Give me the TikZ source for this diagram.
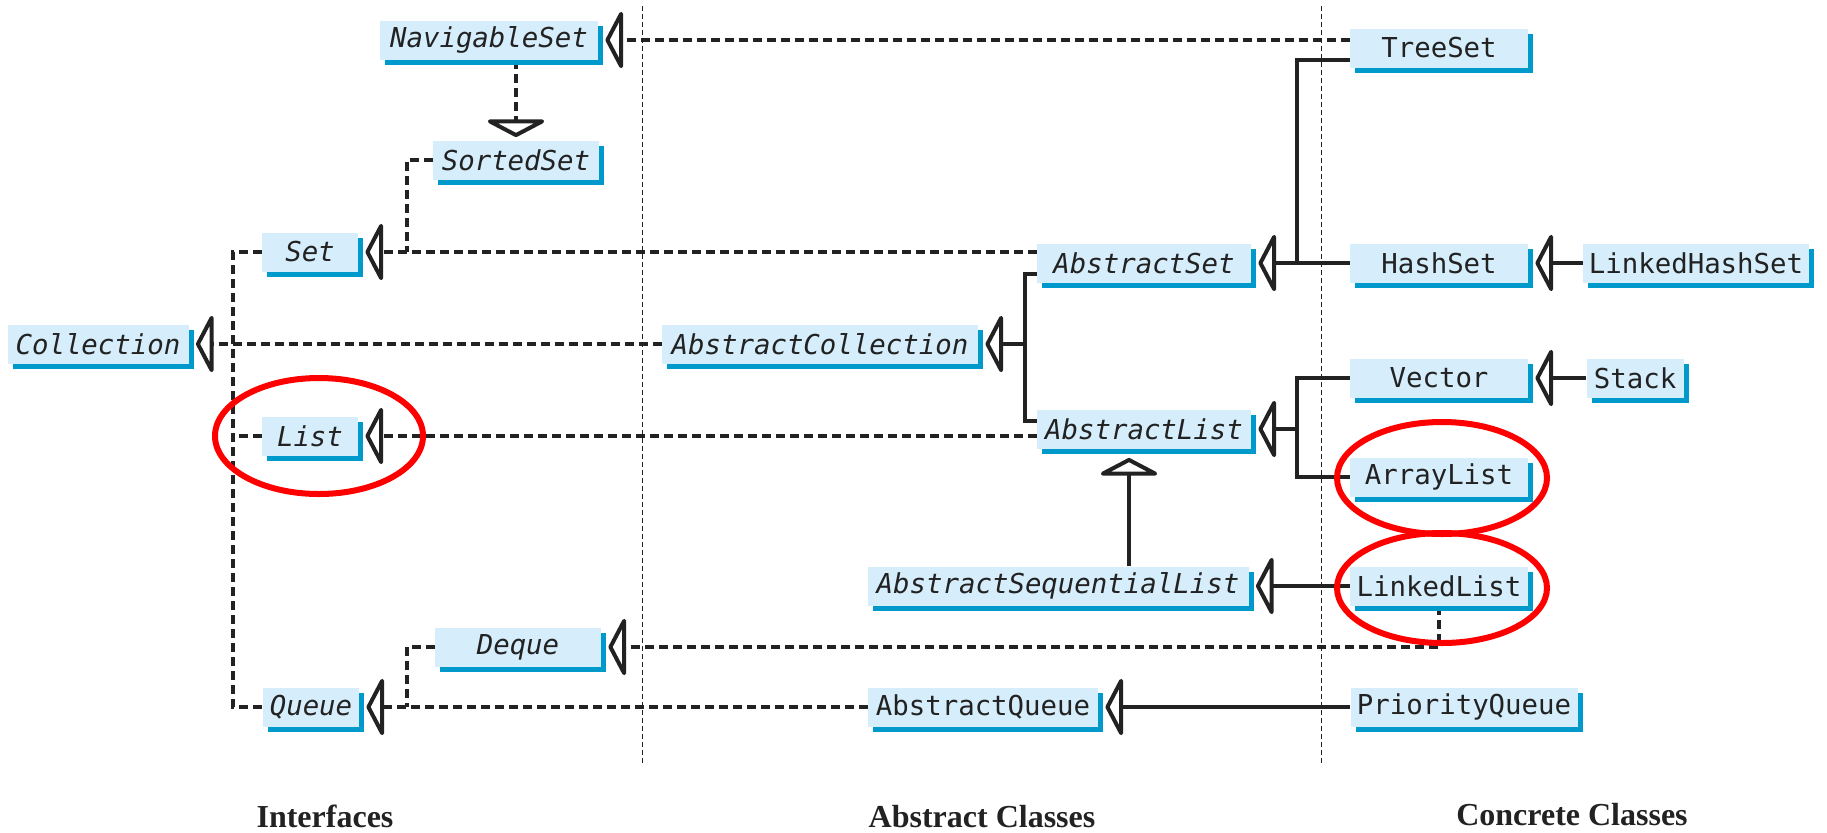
\documentclass[tikz,border=0pt]{standalone}
\usepackage{fontspec}
\setmainfont{Liberation Serif}
\setmonofont{DejaVu Sans Mono}
\usetikzlibrary{arrows.meta,calc,shadows}
\definecolor{boxfill}{RGB}{214,238,251}
\definecolor{boxshade}{RGB}{0,153,204}
\definecolor{ink}{RGB}{34,34,34}
\pgfdeclarelayer{bg}
\pgfsetlayers{bg,main}
\begin{document}
\begin{tikzpicture}[x=0.5pt,y=-0.5pt,
  cls/.style={draw=none, fill=boxfill, inner sep=0pt, minimum height=19.5pt,
    minimum width=#1*0.5pt, text=ink,
    font=\fontsize{13.7pt}{16pt}\selectfont\ttfamily,
    general shadow={fill=boxshade, shadow xshift=2.5pt, shadow yshift=-2.5pt}},
  ifc/.style={cls=#1, font=\fontsize{13.7pt}{16pt}\selectfont\ttfamily\itshape},
  lbl/.style={font=\fontsize{16pt}{18pt}\selectfont\bfseries, text=ink, inner sep=0pt},
  dep/.style={draw=ink, line width=1.6pt, dash pattern=on 4.5pt off 2.5pt},
  sol/.style={draw=ink, line width=1.6pt},
  sepline/.style={draw=ink, line width=0.5pt, dash pattern=on 2.5pt off 1.5pt},
  inh/.style={-{Triangle[open,round,length=9pt,width=34pt,line width=2pt]}},
  circ/.style={draw=red, line width=3pt}
]
\useasboundingbox (0,0) rectangle (1827,832);

% ---- nodes ----
\node[ifc=218] (NS)    at (489,40)  {NavigableSet};
\node[ifc=166] (SS)    at (516,160) {SortedSet};
\node[ifc=96]  (Set)   at (310,252) {Set};
\node[ifc=181] (Coll)  at (98,344)  {Collection};
\node[ifc=96]  (List)  at (310,436) {List};
\node[ifc=166] (Deque) at (518,647) {Deque};
\node[ifc=96]  (Queue) at (311,707) {Queue};

\node[ifc=316] (AC)  at (820,344)  {AbstractCollection};
\node[ifc=214] (AS)  at (1144,263) {AbstractSet};
\node[ifc=214] (AL)  at (1144,429) {AbstractList};
\node[ifc=381] (ASL) at (1058,586) {AbstractSequentialList};
\node[cls=230] (AQ)  at (983,707)  {AbstractQueue};

\node[cls=178] (TS)    at (1439,48)  {TreeSet};
\node[cls=178] (HS)    at (1439,263) {HashSet};
\node[cls=226] (LHS)   at (1696,263) {LinkedHashSet};
\node[cls=178] (Vec)   at (1439,378) {Vector};
\node[cls=97]  (Stack) at (1635,378) {Stack};
\node[cls=178] (AR)    at (1439,477) {ArrayList};
\node[cls=178] (LL)    at (1439,586) {LinkedList};
\node[cls=227] (PQ)    at (1464,707) {PriorityQueue};

% ---- labels ----
\node[lbl, anchor=base] (L1) at (325,827)  {Interfaces};
\node[lbl, anchor=base] (L2) at (982,827)  {Abstract Classes};
\node[lbl, anchor=base] (L3) at (1572,825) {Concrete Classes};

% ---- helper coordinates ----
\coordinate (j1) at (407,0);
\coordinate (spine) at (233,0);
\coordinate (acj) at (1025,0);
\coordinate (asj) at (1297,0);
\coordinate (aslj) at (1129,0);
\coordinate (asb) at ($(AS.west)+(0,11)$);
\coordinate (alb) at ($(AL.west)+(0,-8)$);
\coordinate (sepA1) at (642,6);
\coordinate (sepA2) at (642,765);
\coordinate (sepB1) at (1321,6);
\coordinate (sepB2) at (1321,765);
% arrow apex points (just beyond the shadow)
\coordinate (NSe)   at ($(NS.east)+(7,0)$);
\coordinate (SSn)   at ($(SS.north)+(0,-3)$);
\coordinate (Sete)  at ($(Set.east)+(7,0)$);
\coordinate (Colle) at ($(Coll.east)+(7,0)$);
\coordinate (Liste) at ($(List.east)+(7,0)$);
\coordinate (Dequee) at ($(Deque.east)+(7,0)$);
\coordinate (Queuee) at ($(Queue.east)+(7,0)$);
\coordinate (ACe)   at ($(AC.east)+(7,0)$);
\coordinate (ASe)   at ($(AS.east)+(7,0)$);
\coordinate (ALe)   at ($(AL.east)+(7,0)$);
\coordinate (ALs)   at ($(AL.south -| aslj)+(0,9)$);
\coordinate (ASLe)  at ($(ASL.east)+(7,0)$);
\coordinate (AQe)   at ($(AQ.east)+(7,0)$);
\coordinate (HSe)   at ($(HS.east)+(7,0)$);
\coordinate (Vece)  at ($(Vec.east)+(7,0)$);

\begin{pgfonlayer}{bg}
% separators
\draw[sepline] (sepA1) -- (sepA2);
\draw[sepline] (sepB1) -- (sepB2);

% interfaces
\draw[dep,inh] ($(TS.west)+(0,-8)$) -- (NSe);
\draw[dep,line width=2.4pt,inh] (NS.south -| SS.north) -- (SSn);
\draw[dep] (SS.west) -| (Set.east -| j1);
\draw[dep,inh] ($(AS.west)+(0,-11)$) -- (Sete);
\draw[dep] (Set.west) -| (Queue.west -| spine) -- (Queue.west);
\draw[dep] (List.west) -- (List.west -| spine);
\draw[dep,inh] (AC.west) -- (Colle);
\draw[dep,inh] ($(AL.west)+(0,7)$) -- (Liste);
\draw[dep,inh] (LL.south) |- (Dequee);
\draw[dep] (Deque.west) -| (Queue.east -| j1);
\draw[dep,inh] (AQ.west) -- (Queuee);

% abstract classes
\draw[sol,line width=2pt] (asb) -| (acj |- alb) -- (alb);
\draw[sol,inh] (acj |- AC.east) -- (ACe);
\draw[sol,inh] (HS.west) -- (ASe);
\draw[sol,line width=2pt] ($(TS.west)+(0,12)$) -| (asj |- AS.east);
\draw[sol,inh] (LHS.west) -- (HSe);
\draw[sol,inh] (asj |- AL.east) -- (ALe);
\draw[sol,line width=2pt] (Vec.west) -| (asj |- AR.west) -- (AR.west);
\draw[sol,inh] (Stack.west) -- (Vece);
\draw[sol,inh] (ASL.north -| aslj) -- (ALs);
\draw[sol,inh] (LL.west) -- (ASLe);
\draw[sol,inh] (PQ.west) -- (AQe);
\end{pgfonlayer}

% ---- red highlights ----
\draw[circ] (List.center) ++(9,0) ellipse [x radius=52pt, y radius=29pt];
\draw[circ] (AR.center) ++(3,1) ellipse [x radius=52.5pt, y radius=28pt];
\draw[circ] (LL.center) ++(3,2) ellipse [x radius=52.5pt, y radius=27.5pt];
\end{tikzpicture}
\end{document}
